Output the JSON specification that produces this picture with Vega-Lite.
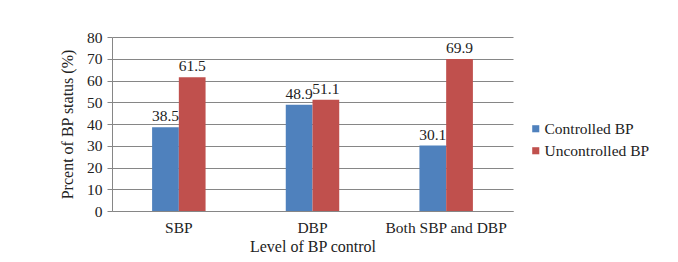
{
  "$schema": "https://vega.github.io/schema/vega-lite/v6.json",
  "autosize": {"type": "none"},
  "width": 401,
  "height": 174,
  "padding": {"left": 112, "top": 37, "right": 165, "bottom": 51},
  "background": "white",
  "config": {
    "font": "Liberation Serif, Times New Roman, serif",
    "view": {"stroke": null}
  },
  "data": {
    "values": [
      {"level": "SBP", "status": "Controlled BP", "pct": 38.5},
      {"level": "SBP", "status": "Uncontrolled BP", "pct": 61.5},
      {"level": "DBP", "status": "Controlled BP", "pct": 48.9},
      {"level": "DBP", "status": "Uncontrolled BP", "pct": 51.1},
      {"level": "Both SBP and DBP", "status": "Controlled BP", "pct": 30.1},
      {"level": "Both SBP and DBP", "status": "Uncontrolled BP", "pct": 69.9}
    ]
  },
  "encoding": {
    "x": {
      "field": "level", "type": "nominal", "sort": ["SBP", "DBP", "Both SBP and DBP"],
      "scale": {"paddingInner": 0.6, "paddingOuter": 0.3},
      "axis": {
        "title": "Level of BP control", "titleFont": "Liberation Serif, Times New Roman, serif", "titleFontSize": 16, "titleFontWeight": "normal", "titleColor": "#222", "titlePadding": 3,
        "labelFont": "Liberation Serif, Times New Roman, serif",
        "labelAngle": 0, "labelFontSize": 15.5, "labelColor": "#222", "labelPadding": 9,
        "ticks": false, "domain": true, "domainColor": "#868686", "grid": false
      }
    },
    "xOffset": {"field": "status", "type": "nominal", "sort": ["Controlled BP", "Uncontrolled BP"], "scale": {"paddingInner": 0, "paddingOuter": 0}},
    "y": {
      "field": "pct", "type": "quantitative",
      "scale": {"domain": [0, 80], "nice": false},
      "axis": {
        "title": "Prcent of BP status (%)", "titleFont": "Liberation Serif, Times New Roman, serif", "titleFontSize": 16, "titleFontWeight": "normal", "titleColor": "#222", "titlePadding": 11,
        "labelFont": "Liberation Serif, Times New Roman, serif",
        "values": [0, 10, 20, 30, 40, 50, 60, 70, 80],
        "labelFontSize": 15.5, "labelColor": "#222", "labelPadding": 5,
        "tickSize": 5, "tickColor": "#868686", "domainColor": "#868686",
        "grid": true, "gridColor": "#868686", "gridWidth": 1
      }
    }
  },
  "layer": [
    {
      "mark": {"type": "bar"},
      "encoding": {
        "color": {
          "field": "status", "type": "nominal",
          "scale": {"domain": ["Controlled BP", "Uncontrolled BP"], "range": ["#4F81BD", "#C0504D"]},
          "legend": {
            "title": null, "orient": "none", "legendX": 416, "legendY": 84,
            "symbolType": "square", "symbolSize": 50, "symbolStrokeWidth": 0,
            "labelFontSize": 15.5, "labelColor": "#222", "labelFont": "Liberation Serif, Times New Roman, serif",
            "rowPadding": 5, "labelOffset": 1
          }
        }
      }
    },
    {
      "mark": {"type": "text", "baseline": "bottom", "dy": -3, "fontSize": 15.5, "color": "#222", "font": "Liberation Serif, Times New Roman, serif"},
      "encoding": {
        "text": {"field": "pct", "type": "quantitative", "format": ".1f"}
      }
    }
  ]
}
